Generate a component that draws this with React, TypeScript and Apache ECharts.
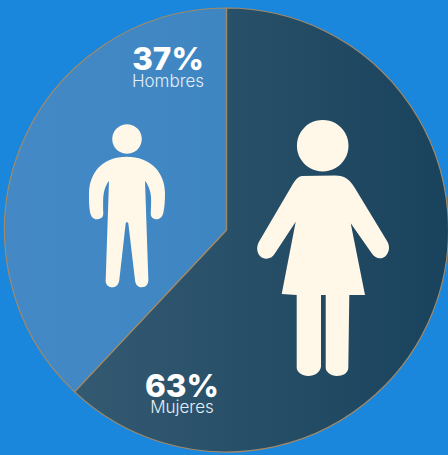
import React, { useEffect, useRef } from "react";
import * as echarts from "echarts";

const categories = ["Mujeres", "Hombres"];
// Printed percentages
const percentLabels = ["63%", "37%"];
// Shares as drawn in the picture (the slice boundary sits slightly off the printed figures)
const drawnShares = [62, 38];
const textPositions = [
  { x: 182, y: 373 },
  { x: 168, y: 46.5 },
];

const MAN =
  "M126.7 156.7C150 156.7 165 172 165 193.3C165 201 164.5 207 163.5 212C162.5 217 160 219.3 156.7 219.3C153 219.3 150.5 217 150.7 213.3C151 208 151.3 202 151 196.7C150.5 190 148 185 145 180.7L148.3 278.3C149 284 146 287.3 141.7 287.3C137.5 287.3 135.3 284 135 280L128.3 223.3C128 221.8 126 221.8 125.7 223.3L119.3 280C118.8 284 116.5 287.3 112.3 287.3C108 287.3 105.2 284 105.7 280L109 180.7C106 185 103.8 190 103.3 196.7C103 202 103 208 103.3 213.3C103.5 217 101 219.3 96.7 219.3C93.5 219.3 91 217 90 212C89.2 207 88.8 201 89 193.3C89.5 172 103 156.7 126.7 156.7Z";
const WOMAN =
  "M301.7 176L335 175.5C345 175.5 350 180 355 188.3L387 241C390 246 389.5 251 386.5 255C383 259.5 376 260 371.7 253.3L350.7 223.3L365 295L349.3 295L348.3 368C348 373 343 376 336.7 376C331 376 326 372 325.7 368.3L325.7 295L321 295L321 366.7C320 372 315 376 308.3 376C302 376 297 372 296.7 368L296.7 295L281.7 294L295.7 221.7L275 253.3C271 260 264 260 260 256C256.5 252 256 246 260 240L293.3 183.3C296 179 298.5 176.5 301.7 176Z";

echarts.graphic.registerShape("manBody", echarts.graphic.extendPath(MAN, {}));
echarts.graphic.registerShape("womanBody", echarts.graphic.extendPath(WOMAN, {}));

const CREAM = "#fff8e9";

export default function App() {
  const ref = useRef<HTMLDivElement>(null);
  useEffect(() => {
    document.body.style.margin = "0";
    const chart = echarts.init(ref.current!, null, { renderer: "svg" });
    const fills: any[] = [
      {
        type: "linear", x: 0, y: 0, x2: 1, y2: 0,
        colorStops: [
          { offset: 0, color: "#345a72" },
          { offset: 1, color: "#19425c" },
        ],
      },
      {
        type: "linear", x: 0, y: 0, x2: 1, y2: 0,
        colorStops: [
          { offset: 0, color: "#4489c5" },
          { offset: 1, color: "#3e86c2" },
        ],
      },
    ];
    const texts: any[] = categories.map((name, i) => ({
      type: "text",
      x: textPositions[i].x,
      y: textPositions[i].y,
      z: 10,
      style: {
        text: `{p|${percentLabels[i]}}\n{n|${name}}`,
        align: "center",
        verticalAlign: "top",
        rich: {
          p: {
            fill: "#ffffff",
            align: "center",
            lineHeight: 24,
            font: '800 31.5px Inter, "Open Sans", sans-serif',
          },
          n: {
            fill: "#e4eef6",
            align: "center",
            lineHeight: 20,
            font: '300 17px Inter, "Open Sans", sans-serif',
          },
        },
      },
    }));
    chart.setOption({
      animation: false,
      backgroundColor: "#1a86dc",
      series: [
        {
          type: "pie",
          center: [226.5, 230],
          radius: [0, 222],
          startAngle: 90,
          clockwise: true,
          silent: true,
          label: { show: false },
          labelLine: { show: false },
          itemStyle: { borderColor: "#a08a68", borderWidth: 1.2 },
          data: categories.map((name, i) => ({
            name,
            value: drawnShares[i],
            itemStyle: { color: fills[i] },
          })),
        },
      ],
      graphic: [
        { type: "circle", z: 10, shape: { cx: 127, cy: 139, r: 14.8 }, style: { fill: CREAM } },
        { type: "manBody", z: 10, x: 0, y: 0, style: { fill: CREAM } },
        { type: "circle", z: 10, shape: { cx: 322.7, cy: 145.7, r: 25.8 }, style: { fill: CREAM } },
        { type: "womanBody", z: 10, x: 0, y: 0, style: { fill: CREAM } },
        ...texts,
      ],
    });
    return () => chart.dispose();
  }, []);
  return <div ref={ref} style={{ width: 448, height: 455 }} />;
}
